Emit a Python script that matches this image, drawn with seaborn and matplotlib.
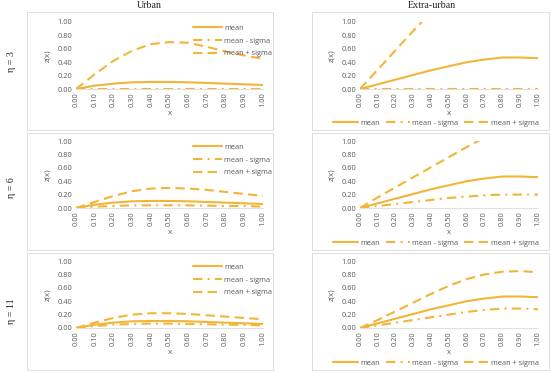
import numpy as np
import pandas as pd
import matplotlib
matplotlib.use("Agg")
import matplotlib.pyplot as plt
import seaborn as sns
from matplotlib.patches import Rectangle

# ---- data ----
x_vals = [0.0, 0.1, 0.2, 0.3, 0.4, 0.5, 0.6, 0.7, 0.8, 0.9, 1.0]
x_ticks = [0.0, 0.1, 0.2, 0.3, 0.4, 0.5, 0.6, 0.7, 0.8, 0.9, 1.0]
y_ticks = [0.0, 0.2, 0.4, 0.6, 0.8, 1.0]
series_names = ["mean", "mean - sigma", "mean + sigma"]
col_titles = ["Urban", "Extra-urban"]
row_labels = ["\u03b7 = 3", "\u03b7 = 6", "\u03b7 = 11"]

urban_mean = [0.0, 0.05, 0.08, 0.10, 0.105, 0.105, 0.10, 0.09, 0.08, 0.07, 0.06]
extra_mean = [0.0, 0.07, 0.14, 0.21, 0.28, 0.34, 0.40, 0.44, 0.47, 0.47, 0.46]

urban3_minus = [0.0, 0.0, 0.0, 0.0, 0.0, 0.0, 0.0, 0.0, 0.0, 0.0, 0.0]
urban3_plus = [0.0, 0.22, 0.42, 0.57, 0.67, 0.70, 0.69, 0.63, 0.56, 0.50, 0.45]
extra3_minus = [0.0, 0.0, 0.0, 0.0, 0.0, 0.0, 0.0, 0.0, 0.0, 0.0, 0.0]
extra3_plus = [0.0, 0.29, 0.58, 0.87, 1.15, None, None, None, None, None, None]

urban6_minus = [0.0, 0.02, 0.03, 0.04, 0.04, 0.04, 0.04, 0.035, 0.03, 0.03, 0.02]
urban6_plus = [0.0, 0.09, 0.18, 0.25, 0.29, 0.30, 0.29, 0.27, 0.24, 0.21, 0.18]
extra6_minus = [0.0, 0.03, 0.06, 0.09, 0.12, 0.15, 0.17, 0.19, 0.20, 0.20, 0.20]
extra6_plus = [0.0, 0.16, 0.31, 0.46, 0.61, 0.76, 0.91, 1.05, None, None, None]

urban11_minus = [0.0, 0.03, 0.05, 0.06, 0.065, 0.065, 0.06, 0.055, 0.05, 0.045, 0.04]
urban11_plus = [0.0, 0.08, 0.15, 0.20, 0.22, 0.22, 0.21, 0.19, 0.17, 0.15, 0.13]
extra11_minus = [0.0, 0.04, 0.08, 0.12, 0.16, 0.20, 0.24, 0.27, 0.29, 0.29, 0.28]
extra11_plus = [0.0, 0.12, 0.25, 0.38, 0.51, 0.63, 0.73, 0.80, 0.84, 0.85, 0.83]

panels = [
    [(urban_mean, urban3_minus, urban3_plus), (extra_mean, extra3_minus, extra3_plus)],
    [(urban_mean, urban6_minus, urban6_plus), (extra_mean, extra6_minus, extra6_plus)],
    [(urban_mean, urban11_minus, urban11_plus), (extra_mean, extra11_minus, extra11_plus)],
]

# ---- styling ----
sns.set_theme(style="white")
plt.rcParams["font.family"] = ["Open Sans", "DejaVu Sans"]
gold = "#F2B538"
tick_grey = "#595959"
dash_map = {"mean": "", "mean - sigma": (4.5, 2.5, 1, 2.5), "mean + sigma": (4.5, 2.5)}

W, H = 550, 373
fig = plt.figure(figsize=(W / 100, H / 100), dpi=100)

def fx(px):
    return px / W

def fy(py):
    return 1 - py / H

# frames around each panel (pixels)
col_box = [(27, 273), (312, 549)]
row_box = [(12, 130), (133, 250), (253, 370)]
for (x0, x1) in col_box:
    for (y0, y1) in row_box:
        fig.patches.append(Rectangle((fx(x0), fy(y1)), fx(x1 - x0), (y1 - y0) / H,
                                     transform=fig.transFigure, fill=False,
                                     edgecolor="#D9D9D9", linewidth=0.6))

col_axes = [(76, 263), (360, 538)]
row_axes = [(22, 89), (141, 208), (261, 328)]

for r in range(3):
    for c in range(2):
        x0, x1 = col_axes[c]
        y0, y1 = row_axes[r]
        ax = fig.add_axes([fx(x0), fy(y1), fx(x1 - x0), (y1 - y0) / H])
        mean, minus, plus = panels[r][c]
        df = pd.DataFrame({
            "x": x_vals * 3,
            "z": mean + minus + plus,
            "series": sum([[s] * len(x_vals) for s in series_names], []),
        }).dropna()
        sns.lineplot(data=df, x="x", y="z", style="series", style_order=series_names,
                     dashes=dash_map, color=gold, linewidth=1.5, ax=ax, legend=False)
        ax.set_xlim(0, 1)
        ax.set_ylim(0, 1)
        ax.set_xticks(x_ticks)
        ax.set_xticklabels([f"{v:.2f}" for v in x_ticks], rotation=90)
        ax.set_yticks(y_ticks)
        ax.set_yticklabels([f"{v:.2f}" for v in y_ticks])
        ax.tick_params(axis="both", labelsize=5.3, colors=tick_grey, length=0, pad=2.5)
        for side in ["top", "right", "left"]:
            ax.spines[side].set_visible(False)
        ax.spines["bottom"].set_color("#D9D9D9")
        ax.spines["bottom"].set_linewidth(0.6)
        ax.set_xlabel("x", fontsize=5.8, color=tick_grey, labelpad=2)
        ax.set_ylabel("z(x)", fontsize=5.8, color=tick_grey, labelpad=5)
        ax.patch.set_alpha(0)

        handles = ax.get_lines()[:3]
        if c == 0:
            ax.legend(handles, series_names, loc="upper left",
                      bbox_to_anchor=(fx(189), fy(row_axes[r][0] - 1)),
                      bbox_transform=fig.transFigure, frameon=False,
                      fontsize=5.3, labelcolor=tick_grey, handlelength=4.0,
                      handletextpad=0.3, labelspacing=0.75, borderpad=0)
        else:
            ax.legend(handles, series_names, loc="center",
                      bbox_to_anchor=(fx(436), fy(row_box[r][1] - 7)),
                      bbox_transform=fig.transFigure, frameon=False, ncol=3,
                      fontsize=5.3, labelcolor=tick_grey, handlelength=3.3,
                      handletextpad=0.3, columnspacing=0.8, borderpad=0)

fig.text(fx(149), fy(6), col_titles[0], ha="center", va="center",
         fontsize=7.2, family="Liberation Serif", color="#222222")
fig.text(fx(432), fy(6), col_titles[1], ha="center", va="center",
         fontsize=7.2, family="Liberation Serif", color="#222222")
for r, lab in enumerate(row_labels):
    yc = [62, 188, 311][r]
    fig.text(fx(12), fy(yc), lab, ha="center", va="center", rotation=90,
             fontsize=7.2, family="Liberation Serif", color="#222222")

fig.savefig("out.png", dpi=100)
